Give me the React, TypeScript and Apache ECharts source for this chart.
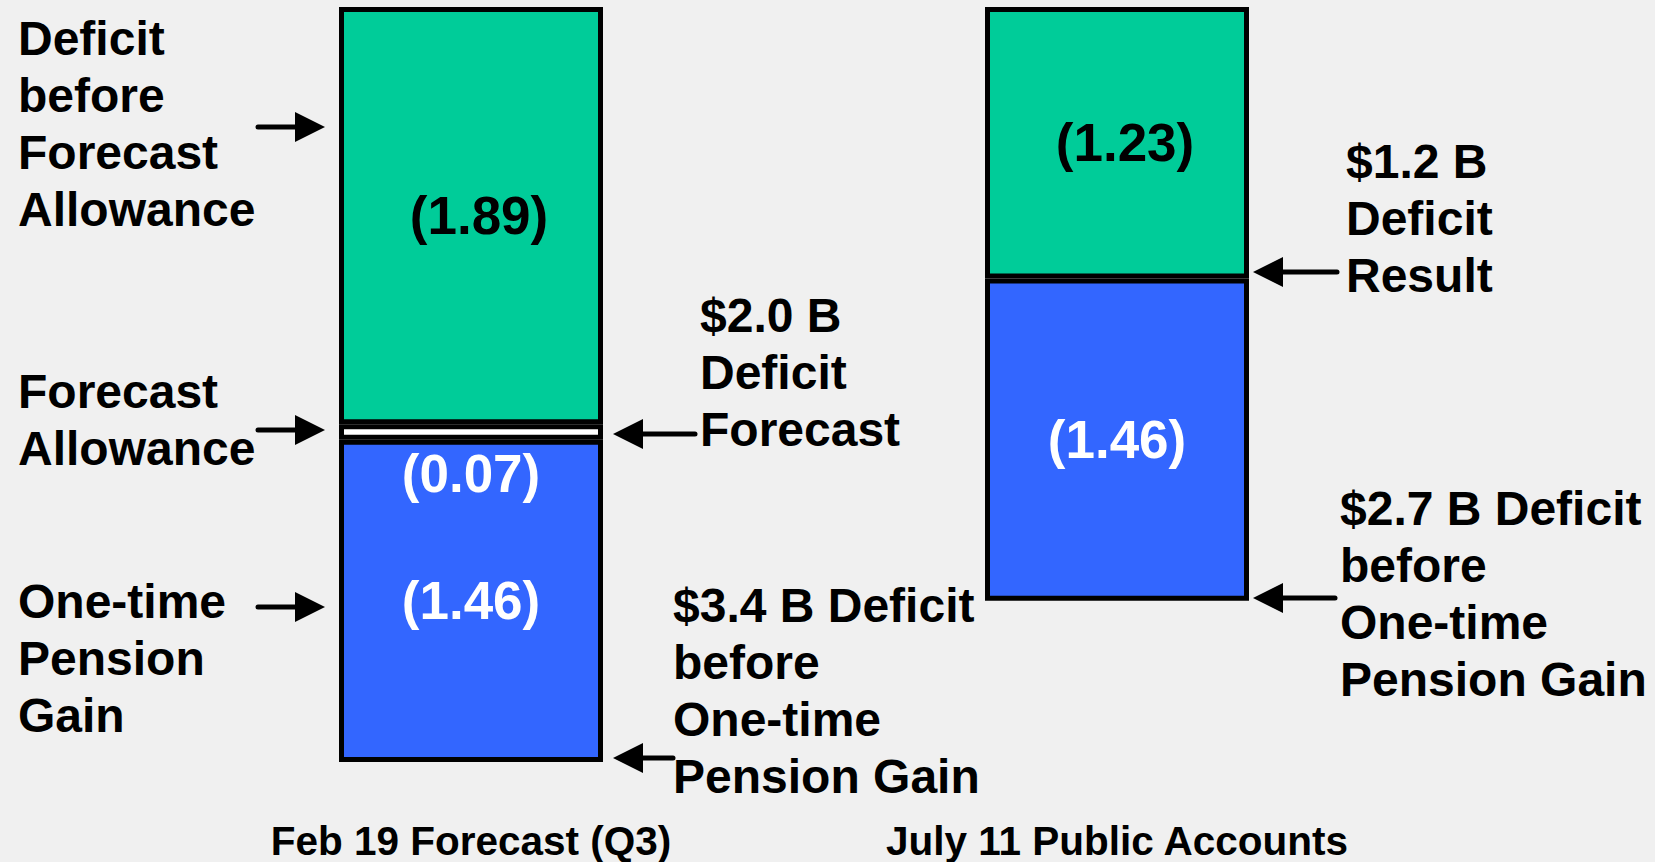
import React, { useEffect, useRef } from "react";
import * as echarts from "echarts";

const categories = ["Feb 19 Forecast (Q3)", "July 11 Public Accounts"];
const deficitBeforeAllowance = [1.89, 1.23];
const forecastAllowance: (number | string)[] = [0.07, "-"];
const pensionGain = [1.46, 1.46];
const axisMax = 3.42;

const FONT = "'Liberation Sans', Arial, Helvetica, sans-serif";
const F = 48;
const LH = 57;

const annotations = [
  { x: 18, baseline: 55, text: "Deficit\nbefore\nForecast\nAllowance" },
  { x: 18, baseline: 408, text: "Forecast\nAllowance" },
  { x: 18, baseline: 618, text: "One-time\nPension\nGain" },
  { x: 700, baseline: 332, text: "$2.0 B\nDeficit\nForecast" },
  { x: 673, baseline: 622, text: "$3.4 B Deficit\nbefore\nOne-time\nPension Gain" },
  { x: 1346, baseline: 178, text: "$1.2 B\nDeficit\nResult" },
  { x: 1340, baseline: 525, text: "$2.7 B Deficit\nbefore\nOne-time\nPension Gain" },
];

// arrows: tip x, y, tail x
const arrows = [
  { tip: 325, y: 127, tail: 258 },
  { tip: 325, y: 430, tail: 258 },
  { tip: 325, y: 607, tail: 258 },
  { tip: 613, y: 434, tail: 695 },
  { tip: 613, y: 758, tail: 673 },
  { tip: 1253, y: 272, tail: 1337 },
  { tip: 1253, y: 598, tail: 1335 },
];

function arrowGraphic(a: { tip: number; y: number; tail: number }) {
  const dir = a.tip > a.tail ? 1 : -1;
  const headLen = 30;
  const half = 15;
  const baseX = a.tip - dir * headLen;
  return {
    type: "group",
    children: [
      {
        type: "line",
        shape: { x1: a.tail, y1: a.y, x2: baseX + dir * 2, y2: a.y },
        style: { stroke: "#000", lineWidth: 5, lineCap: "round" },
      },
      {
        type: "polygon",
        shape: {
          points: [
            [a.tip, a.y],
            [baseX, a.y - half],
            [baseX, a.y + half],
          ],
        },
        style: { fill: "#000" },
      },
    ],
  };
}

export default function App() {
  const ref = useRef<HTMLDivElement>(null);
  useEffect(() => {
    if (!ref.current) return;
    const chart = echarts.init(ref.current, undefined, { renderer: "svg" });
    const labelFmt = (p: any) => `(${Number(p.value).toFixed(2)})`;
    const graphics: any[] = [];
    annotations.forEach((t) => {
      graphics.push({
        type: "text",
        left: t.x,
        top: t.baseline - LH / 2 - 0.35 * F,
        style: {
          text: t.text,
          fill: "#000",
          font: `bold ${F}px ${FONT}`,
          lineHeight: LH,
          textVerticalAlign: "top",
        },
      });
    });
    arrows.forEach((a) => graphics.push(arrowGraphic(a)));

    const barLabel = (color: string, extra: any = {}) => ({
      show: true,
      position: "inside",
      formatter: labelFmt,
      color,
      fontWeight: "bold",
      fontSize: 53,
      fontFamily: FONT,
      ...extra,
    });

    chart.setOption({
      animation: false,
      backgroundColor: "#f0f0f0",
      grid: { left: 148, right: 215, top: 7, bottom: 100 },
      xAxis: {
        type: "category",
        data: categories,
        position: "bottom",
        axisLine: { show: false, onZero: false },
        axisTick: { show: false },
        axisLabel: {
          color: "#000",
          fontWeight: "bold",
          fontSize: 40.5,
          fontFamily: FONT,
          margin: 58,
          interval: 0,
        },
      },
      yAxis: {
        type: "value",
        inverse: true,
        min: 0,
        max: axisMax,
        show: false,
        splitLine: { show: false },
      },
      series: [
        {
          type: "bar",
          stack: "total",
          barWidth: 264,
          data: deficitBeforeAllowance,
          itemStyle: { color: "#00cc99", borderColor: "#000", borderWidth: 5 },
          label: barLabel("#000", { offset: [8, 0] }),
        },
        {
          type: "bar",
          stack: "total",
          barWidth: 264,
          data: forecastAllowance,
          itemStyle: { color: "#ffffff", borderColor: "#000", borderWidth: 5 },
          label: barLabel("#fff", { offset: [0, 42] }),
        },
        {
          type: "bar",
          stack: "total",
          barWidth: 264,
          data: pensionGain,
          itemStyle: { color: "#3366ff", borderColor: "#000", borderWidth: 5 },
          label: barLabel("#fff"),
        },
      ],
      graphic: graphics,
    });
    return () => chart.dispose();
  }, []);
  return (
    <div
      ref={ref}
      style={{ position: "absolute", left: 0, top: 0, width: 1655, height: 862 }}
    />
  );
}
